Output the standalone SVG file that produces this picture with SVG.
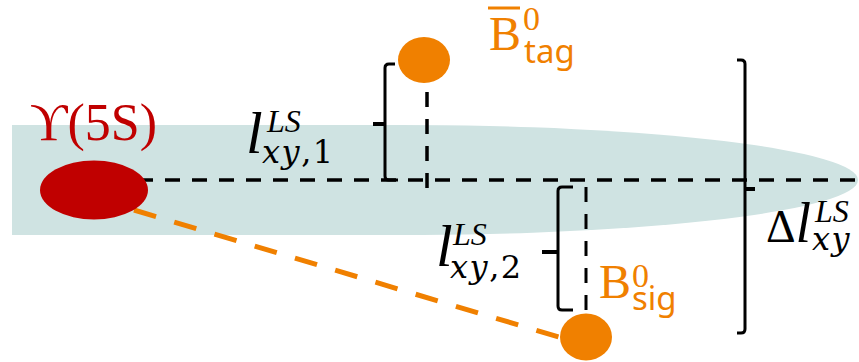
<svg xmlns="http://www.w3.org/2000/svg" width="859" height="362" viewBox="0 0 859 362">
<style>
.bk{fill:none;stroke:#000;stroke-width:3;stroke-linejoin:round}
.dash{fill:none;stroke:#000;stroke-width:3.5;stroke-dasharray:15 12}
.odash{fill:none;stroke:#f08000;stroke-width:5;stroke-dasharray:23 19}
.m{font-family:"Liberation Serif","DejaVu Serif",serif;fill:#000}
.i{font-style:italic}
.s{font-family:"DejaVu Serif","Liberation Serif",serif;font-size:32px;letter-spacing:1.5px}
.or{fill:#f08000}
.sub{font-family:"Noto Sans","Liberation Sans",sans-serif;font-size:33px;fill:#f08000}
</style>
<g id="beam"><path d="M12,125 H400 A458,55 0 0 1 858,180 A458,55 0 0 1 400,235 H12 Z" fill="#cfe3e2"/></g>
<g id="connectors">
<line class="dash" x1="138" y1="180" x2="858" y2="180"/>
<line class="dash" x1="427" y1="92" x2="427" y2="189"/>
<line class="dash" x1="586" y1="187" x2="586" y2="314" style="stroke-width:3"/>
<line class="odash" x1="134" y1="210" x2="562" y2="338"/>
</g>
<g id="upsilon5S">
<ellipse cx="94" cy="190" rx="54" ry="29.5" fill="#c00000"/>
<text class="m" x="30" y="140" font-size="52" style="fill:#c00000">ϒ(5S)</text>
</g>
<g id="Btag">
<ellipse cx="424" cy="60" rx="26" ry="23" fill="#f08000"/>
<line x1="488" y1="8" x2="520" y2="8" stroke="#f08000" stroke-width="3"/>
<text class="m or" x="489" y="50" font-size="48">B<tspan x="523" y="30" font-size="34">0</tspan><tspan class="sub" x="524" y="63">tag</tspan></text>
</g>
<g id="Bsig">
<ellipse cx="586" cy="337" rx="26" ry="23.5" fill="#f08000"/>
<text class="m or" x="599" y="298" font-size="48">B<tspan x="632" y="287" font-size="34">0</tspan><tspan class="sub" x="632" y="310">sig</tspan></text>
</g>
<g id="brace1">
<path class="bk" d="M395,64 H389 Q385,64 385,68 V176 Q385,180 389,180 H398"/>
<path class="bk" d="M373,124 H385" style="stroke-width:4"/>
<text class="m i" x="246" y="153" font-size="60">l<tspan x="267" y="132" font-size="32">LS</tspan><tspan class="s" x="262" y="163">xy<tspan font-style="normal">,1</tspan></tspan></text>
</g>
<g id="brace2">
<path class="bk" d="M573,187 H562 Q558,187 558,191 V306 Q558,310 562,310 H573"/>
<path class="bk" d="M542,252 H558" style="stroke-width:4"/>
<text class="m i" x="436" y="266" font-size="60">l<tspan x="453" y="245" font-size="32">LS</tspan><tspan class="s" x="450" y="278">xy<tspan font-style="normal">,2</tspan></tspan></text>
</g>
<g id="bracket3">
<path class="bk" d="M737,60 H741 Q745,60 745,64 V329 Q745,333 741,333 H737"/>
<path class="bk" d="M745,189 H755" style="stroke-width:4"/>
<text class="m" x="766" y="242" font-size="46">Δ<tspan class="i" font-size="56">l</tspan><tspan class="i" x="815" y="222" font-size="32">LS</tspan><tspan class="s i" x="812" y="250">xy</tspan></text>
</g>
</svg>
